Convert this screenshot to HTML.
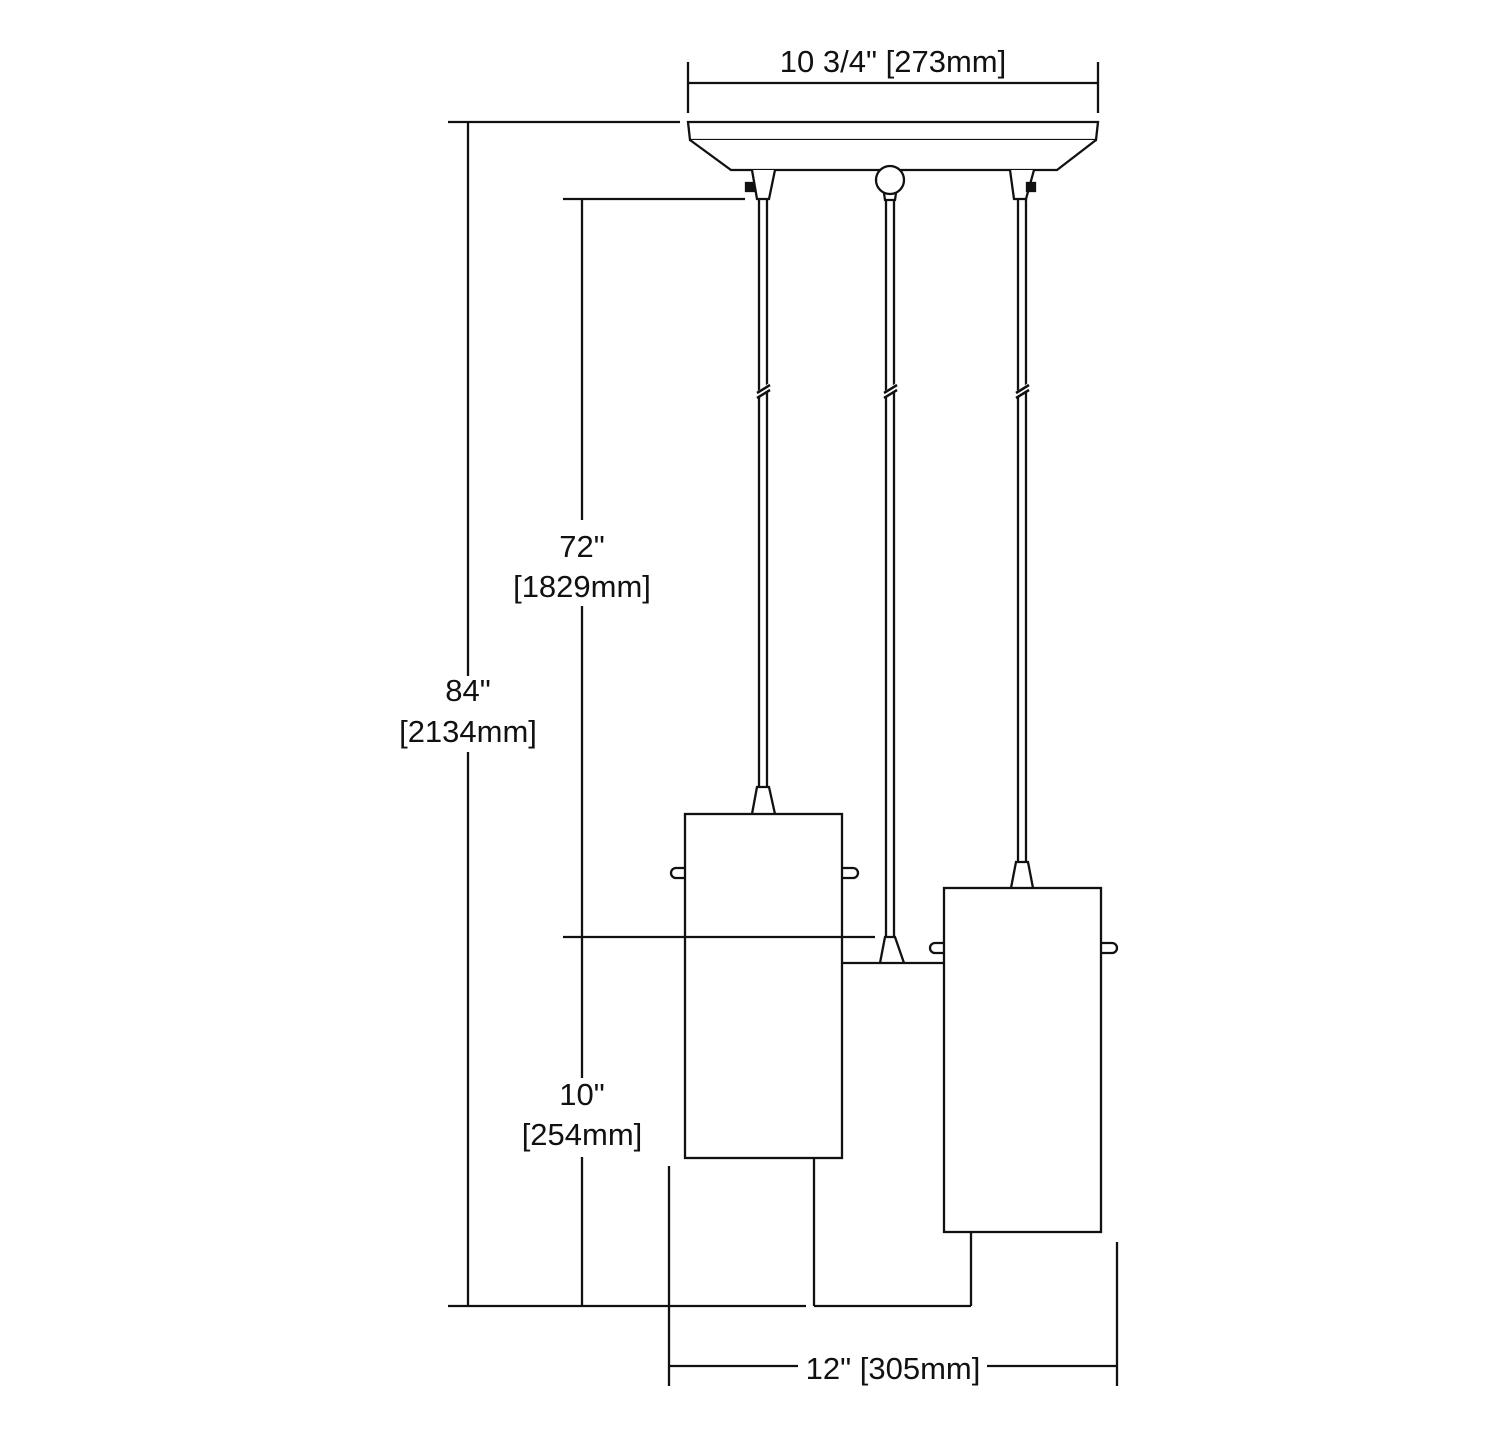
<!DOCTYPE html>
<html><head><meta charset="utf-8"><style>
html,body{margin:0;padding:0;background:#fff}
svg{display:block}
text{font-family:"Liberation Sans",Arial,sans-serif;font-size:31px;fill:#111;text-anchor:middle}
</style></head><body>
<svg width="1500" height="1455" viewBox="0 0 1500 1455" xmlns="http://www.w3.org/2000/svg">
<g stroke="#111" stroke-width="2.3" fill="none">
<line x1="688" y1="62" x2="688" y2="113"/>
<line x1="1098" y1="62" x2="1098" y2="113"/>
<line x1="688" y1="83" x2="1098" y2="83"/>
<path d="M688,122 H1098 L1096,140 H690 Z" fill="#fff"/>
<path d="M690,140 L731,170 H1057 L1096,140" fill="#fff"/>
<path d="M752,170 L757,199 H769 L775,170" fill="#fff"/>
<rect x="746" y="183" width="8" height="8" fill="#111"/>
<path d="M1010,170 L1014,199 H1026 L1034,170" fill="#fff"/>
<rect x="1027" y="183" width="8" height="8" fill="#111"/>
<circle cx="890" cy="180" r="14" fill="#fff"/>
<path d="M884,193 L885,200 H895 L896,193"/>
<line x1="759" y1="199" x2="759" y2="787"/><line x1="767" y1="199" x2="767" y2="787"/>
<line x1="886" y1="200" x2="886" y2="937"/><line x1="894" y1="200" x2="894" y2="937"/>
<line x1="1018" y1="199" x2="1018" y2="862"/><line x1="1026" y1="199" x2="1026" y2="862"/>
<g stroke-width="2.5">
<line x1="756" y1="396" x2="770" y2="386" stroke="#fff" stroke-width="6"/>
<line x1="757" y1="393" x2="770" y2="385"/><line x1="757" y1="398" x2="770" y2="390"/>
<line x1="883" y1="396" x2="897" y2="386" stroke="#fff" stroke-width="6"/>
<line x1="884" y1="393" x2="897" y2="385"/><line x1="884" y1="398" x2="897" y2="390"/>
<line x1="1015" y1="396" x2="1029" y2="386" stroke="#fff" stroke-width="6"/>
<line x1="1016" y1="393" x2="1029" y2="385"/><line x1="1016" y1="398" x2="1029" y2="390"/>
</g>
<path d="M880,963 L885,937 H895 L904,963" fill="#fff"/>
<line x1="842" y1="963" x2="944" y2="963"/>
<path d="M752,814 L757,787 H769 L775,814" fill="#fff"/>
<rect x="685" y="814" width="157" height="344" fill="#fff"/>
<path d="M685,868 H676 A5,5 0 0 0 676,878 H685"/>
<path d="M842,868 H853 A5,5 0 0 1 853,878 H842"/>
<path d="M1011,888 L1016,862 H1028 L1033,888" fill="#fff"/>
<rect x="944" y="888" width="157" height="344" fill="#fff"/>
<path d="M944,943 H935 A5,5 0 0 0 935,953 H944"/>
<path d="M1101,943 H1112 A5,5 0 0 1 1112,953 H1101"/>
<line x1="814" y1="1158" x2="814" y2="1306"/>
<line x1="814" y1="1306" x2="971" y2="1306"/>
<line x1="971" y1="1232" x2="971" y2="1306"/>
<line x1="448" y1="122" x2="680" y2="122"/>
<line x1="448" y1="1306" x2="806" y2="1306"/>
<line x1="468" y1="122" x2="468" y2="676"/>
<line x1="468" y1="752" x2="468" y2="1306"/>
<line x1="563" y1="199" x2="745" y2="199"/>
<line x1="563" y1="937" x2="875" y2="937"/>
<line x1="582" y1="199" x2="582" y2="520"/>
<line x1="582" y1="606" x2="582" y2="1078"/>
<line x1="582" y1="1157" x2="582" y2="1306"/>
<line x1="669" y1="1166" x2="669" y2="1386"/>
<line x1="1117" y1="1242" x2="1117" y2="1386"/>
<line x1="669" y1="1366" x2="798" y2="1366"/>
<line x1="987" y1="1366" x2="1117" y2="1366"/>
</g>
<text x="893" y="72">10 3/4" [273mm]</text>
<text x="582" y="557">72"</text>
<text x="582" y="597">[1829mm]</text>
<text x="468" y="701">84"</text>
<text x="468" y="742">[2134mm]</text>
<text x="582" y="1105">10"</text>
<text x="582" y="1145">[254mm]</text>
<text x="893" y="1379">12" [305mm]</text>
</svg>
</body></html>
